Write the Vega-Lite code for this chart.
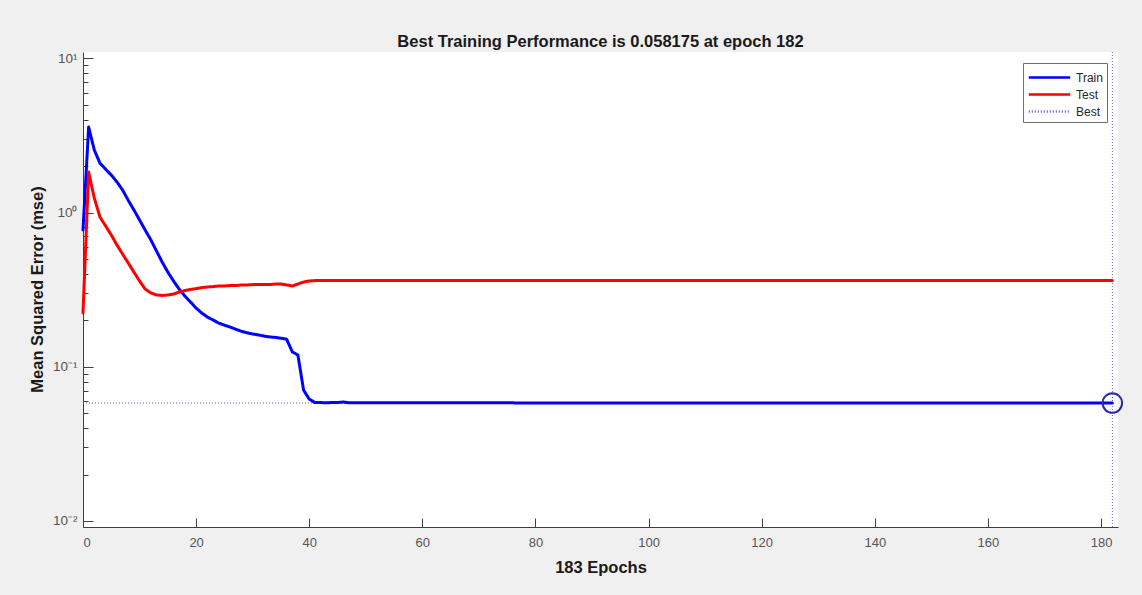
{
  "$schema": "https://vega.github.io/schema/vega-lite/v6.json",
  "width": 1035,
  "height": 475,
  "autosize": "none",
  "padding": {"left": 83, "top": 52, "right": 24, "bottom": 68},
  "background": "#f0f0f0",
  "config": {
    "view": {"fill": "white", "stroke": null},
    "font": "Liberation Sans"
  },
  "title": {
    "text": "Best Training Performance is 0.058175 at epoch 182",
    "font": "Liberation Sans",
    "fontSize": 16.5,
    "fontWeight": "bold",
    "color": "#1a1a1a",
    "anchor": "middle",
    "frame": "group",
    "baseline": "bottom",
    "offset": 4,
    "dy": 19
  },
  "datasets": {
    "perf": [
      {"epoch": 0, "Train": 0.77, "Test": 0.223},
      {"epoch": 1, "Train": 3.58, "Test": 1.83},
      {"epoch": 2, "Train": 2.54, "Test": 1.24},
      {"epoch": 3, "Train": 2.09, "Test": 0.935},
      {"epoch": 4, "Train": 1.91, "Test": 0.818},
      {"epoch": 5, "Train": 1.75, "Test": 0.715},
      {"epoch": 6, "Train": 1.58, "Test": 0.616},
      {"epoch": 7, "Train": 1.4, "Test": 0.538},
      {"epoch": 8, "Train": 1.2, "Test": 0.471},
      {"epoch": 9, "Train": 1.04, "Test": 0.411},
      {"epoch": 10, "Train": 0.894, "Test": 0.36},
      {"epoch": 11, "Train": 0.77, "Test": 0.319},
      {"epoch": 12, "Train": 0.664, "Test": 0.301},
      {"epoch": 13, "Train": 0.563, "Test": 0.292},
      {"epoch": 14, "Train": 0.477, "Test": 0.29},
      {"epoch": 15, "Train": 0.411, "Test": 0.292},
      {"epoch": 16, "Train": 0.36, "Test": 0.296},
      {"epoch": 17, "Train": 0.319, "Test": 0.305},
      {"epoch": 18, "Train": 0.288, "Test": 0.312},
      {"epoch": 19, "Train": 0.263, "Test": 0.317},
      {"epoch": 20, "Train": 0.24, "Test": 0.321},
      {"epoch": 21, "Train": 0.223, "Test": 0.326},
      {"epoch": 22, "Train": 0.21, "Test": 0.329},
      {"epoch": 23, "Train": 0.201, "Test": 0.331},
      {"epoch": 24, "Train": 0.192, "Test": 0.334},
      {"epoch": 25, "Train": 0.186, "Test": 0.334},
      {"epoch": 26, "Train": 0.181, "Test": 0.336},
      {"epoch": 27, "Train": 0.175, "Test": 0.336},
      {"epoch": 28, "Train": 0.17, "Test": 0.339},
      {"epoch": 29, "Train": 0.166, "Test": 0.339},
      {"epoch": 30, "Train": 0.163, "Test": 0.341},
      {"epoch": 31, "Train": 0.161, "Test": 0.341},
      {"epoch": 32, "Train": 0.158, "Test": 0.341},
      {"epoch": 33, "Train": 0.156, "Test": 0.341},
      {"epoch": 34, "Train": 0.155, "Test": 0.344},
      {"epoch": 35, "Train": 0.153, "Test": 0.344},
      {"epoch": 36, "Train": 0.151, "Test": 0.339},
      {"epoch": 37, "Train": 0.125, "Test": 0.334},
      {"epoch": 38, "Train": 0.119, "Test": 0.344},
      {"epoch": 39, "Train": 0.0706, "Test": 0.354},
      {"epoch": 40, "Train": 0.0617, "Test": 0.36},
      {"epoch": 41, "Train": 0.0586, "Test": 0.362},
      {"epoch": 43, "Train": 0.0585, "Test": 0.362},
      {"epoch": 45, "Train": 0.0586, "Test": 0.362},
      {"epoch": 46, "Train": 0.0591, "Test": 0.362},
      {"epoch": 47, "Train": 0.0585, "Test": 0.362},
      {"epoch": 50, "Train": 0.0585, "Test": 0.362},
      {"epoch": 60, "Train": 0.0584, "Test": 0.362},
      {"epoch": 80, "Train": 0.0583, "Test": 0.362},
      {"epoch": 100, "Train": 0.0583, "Test": 0.362},
      {"epoch": 120, "Train": 0.0582, "Test": 0.362},
      {"epoch": 140, "Train": 0.0582, "Test": 0.362},
      {"epoch": 160, "Train": 0.05819, "Test": 0.362},
      {"epoch": 182, "Train": 0.058175, "Test": 0.362}
    ],
    "bestline": [
      {"series": "Best", "epoch": 0, "mse": 0.058175},
      {"series": "Best", "epoch": 182, "mse": 0.058175}
    ],
    "best": [
      {"series": "Best", "epoch": 182, "mse": 0.058175}
    ]
  },
  "layer": [
    {
      "data": {"name": "best"},
      "mark": {"type": "rule", "strokeWidth": 1, "strokeDash": [1, 2]},
      "encoding": {
        "x": {"field": "epoch", "type": "quantitative"},
        "color": {"field": "series", "type": "nominal"}
      }
    },
    {
      "data": {"name": "bestline"},
      "mark": {"type": "line", "strokeWidth": 1},
      "encoding": {
        "x": {"field": "epoch", "type": "quantitative"},
        "y": {"field": "mse", "type": "quantitative"},
        "color": {"field": "series", "type": "nominal"},
        "strokeDash": {"field": "series", "type": "nominal"}
      }
    },
    {
      "data": {"name": "perf"},
      "transform": [{"fold": ["Train", "Test"], "as": ["series", "mse"]}],
      "mark": {"type": "line", "strokeWidth": 3, "strokeJoin": "round", "strokeCap": "round"},
      "encoding": {
        "x": {
          "field": "epoch",
          "type": "quantitative",
          "scale": {"domain": [0, 183], "nice": false, "zero": false},
          "axis": {
            "title": "183 Epochs",
            "values": [0, 20, 40, 60, 80, 100, 120, 140, 160, 180],
            "grid": false,
            "domainColor": "#404040",
            "tickColor": "#404040",
            "tickSize": -9,
            "labelPadding": 18,
            "labelFont": "Liberation Sans",
            "labelFontSize": 13,
            "labelColor": "#555555",
            "titleFont": "Liberation Sans",
            "titleFontSize": 16.5,
            "titleFontWeight": "bold",
            "titleColor": "#1a1a1a",
            "titleBaseline": "middle",
            "titleY": 40
          }
        },
        "y": {
          "field": "mse",
          "type": "quantitative",
          "scale": {"type": "log", "domain": [0.00914, 10.99], "nice": false},
          "axis": {
            "title": "Mean Squared Error  (mse)",
            "values": [0.01, 0.02, 0.03, 0.04, 0.05, 0.06, 0.07, 0.08, 0.09, 0.1, 0.2, 0.3, 0.4, 0.5, 0.6, 0.7, 0.8, 0.9, 1, 2, 3, 4, 5, 6, 7, 8, 9, 10],
            "labelExpr": "datum.value == 10 ? '10¹' : datum.value == 1 ? '10⁰' : datum.value == 0.1 ? '10⁻¹' : datum.value == 0.01 ? '10⁻²' : ''",
            "grid": false,
            "domainColor": "#404040",
            "tickColor": "#404040",
            "tickSize": {"condition": {"test": "indexof([0.01, 0.1, 1, 10], datum.value) >= 0", "value": -10}, "value": -5},
            "labelPadding": 16,
            "labelFont": "Liberation Sans",
            "labelFontSize": 13.5,
            "labelColor": "#555555",
            "titleFont": "Liberation Sans",
            "titleFontSize": 16.5,
            "titleFontWeight": "bold",
            "titleColor": "#1a1a1a",
            "titleBaseline": "middle",
            "titleAlign": "center",
            "titleAngle": -90,
            "titleX": -46,
            "titleY": 237
          }
        },
        "color": {
          "field": "series",
          "type": "nominal",
          "scale": {"domain": ["Train", "Test", "Best"], "range": ["#0000ff", "#ff0000", "#5c5ce0"]},
          "legend": {
            "title": null,
            "orient": "none",
            "legendX": 940,
            "legendY": 11,
            "fillColor": "white",
            "strokeColor": "#6e6e6e",
            "padding": 4,
            "symbolType": "M-2.3,0H2.3",
            "symbolSize": 324,
            "symbolStrokeWidth": 2.5,
            "symbolOffset": 12,
            "labelOffset": 16,
            "labelFont": "Liberation Sans",
            "labelFontSize": 12,
            "labelColor": "#262626",
            "rowPadding": 0
          }
        },
        "strokeDash": {
          "field": "series",
          "type": "nominal",
          "scale": {"domain": ["Train", "Test", "Best"], "range": [[1, 0], [1, 0], [1, 2]]}
        }
      }
    },
    {
      "data": {"name": "best"},
      "mark": {"type": "point", "shape": "circle", "filled": false, "size": 380, "strokeWidth": 2, "color": "#2b2ba6", "opacity": 1},
      "encoding": {
        "x": {"field": "epoch", "type": "quantitative"},
        "y": {"field": "mse", "type": "quantitative"}
      }
    }
  ]
}
